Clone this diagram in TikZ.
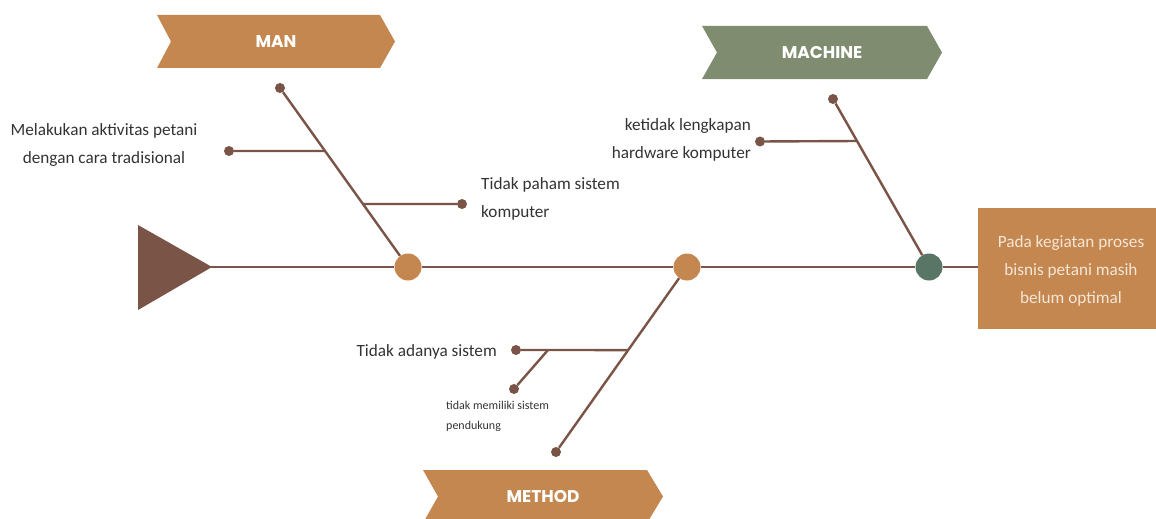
\documentclass[tikz,border=0pt]{standalone}
\usepackage{fontspec}
\setmainfont{Carlito}
\newfontfamily\banfont{Poppins}
\usetikzlibrary{calc}
\definecolor{brn}{HTML}{7A5446}
\definecolor{org}{HTML}{C4874F}
\definecolor{sage}{HTML}{7F8C70}
\definecolor{dgreen}{HTML}{587566}
\definecolor{txt}{HTML}{333333}
\definecolor{boxtxt}{HTML}{F5E6D6}
\tikzset{
  bone/.style={draw=brn, line width=2.4pt},
  enddot/.style={circle, fill=brn, minimum size=10pt, inner sep=0pt},
  hub/.style={circle, minimum size=27pt, inner sep=0pt},
  lbl/.style={text=txt, font=\fontsize{17.2}{28}\selectfont, inner sep=0pt},
  smalllbl/.style={text=txt, font=\fontsize{12}{20}\selectfont, inner sep=0pt},
  bantext/.style={text=white, font=\banfont\bfseries\fontsize{17}{18}\selectfont, inner sep=0pt},
}
\begin{document}
\begin{tikzpicture}[x=1pt,y=-1pt]
\useasboundingbox (0,0) rectangle (1156,519);
\clip (0,0) rectangle (1156,519);
% banners
\fill[org] (157,15) -- (380,15) -- (395,41.5) -- (380,68) -- (157,68) -- (171,41.5) -- cycle;
\node[bantext] (man) at (276,41.5) {MAN};
\fill[sage] (702,26) -- (927,26) -- (942,52.5) -- (927,79) -- (702,79) -- (717,52.5) -- cycle;
\node[bantext] (machine) at (822,52.5) {MACHINE};
\fill[org] (423,470) -- (647,470) -- (663,496.5) -- (647,523) -- (423,523) -- (438,496.5) -- cycle;
\node[bantext] (method) at (543,496.5) {METHOD};
% head box
\node[fill=org, minimum width=178pt, minimum height=121pt, inner sep=0pt, anchor=north west] (effect) at (978,208) {};
\node[text=boxtxt, font=\fontsize{17.2}{28}\selectfont, align=center, inner sep=0pt] (efftext) at (1071,271) {Pada kegiatan proses\\bisnis petani masih\\belum optimal};
\coordinate (head) at (978,267);
% tail triangle
\fill[brn] (138,225) -- (212,267) -- (138,310) -- cycle;
\coordinate (tail) at (210,267);
% hubs
\node[hub, fill=org] (h1) at (408,267) {};
\node[hub, fill=org] (h2) at (687,267) {};
\node[hub, fill=dgreen] (h3) at (929,267) {};
% spine
\draw[bone] (tail) -- (h1) -- (h2) -- (h3) -- (head);
% MAN bone
\node[enddot] (d1) at (280,88) {};
\draw[bone] (d1) -- (h1);
\coordinate (j1) at ($(280,88)!0.352!(408,267)$);
\coordinate (j2) at ($(280,88)!0.648!(408,267)$);
\node[enddot] (d2) at (229,151) {};
\node[enddot] (d3) at (462,204) {};
\draw[bone] (d2) -- (j1);
\draw[bone] (j2) -- (d3);
\node[lbl, align=center] (t1) at (104,145) {Melakukan aktivitas petani\\dengan cara tradisional};
\node[lbl, align=left, anchor=west] (t2) at (481,199) {Tidak paham sistem\\komputer};
% MACHINE bone
\node[enddot] (d4) at (833,99) {};
\draw[bone] (d4) -- (h3);
\coordinate (j3) at ($(833,99)!0.25!(929,267)$);
\node[enddot] (d5) at (760,141.5) {};
\draw[bone] (d5) -- (j3);
\node[lbl, align=right, anchor=east] (t3) at (751,140) {ketidak lengkapan\\hardware komputer};
% METHOD bone
\node[enddot] (d6) at (556,452) {};
\draw[bone] (h2) -- (d6);
\coordinate (j4) at ($(687,267)!0.449!(556,452)$);
\node[enddot] (d7) at (516,350) {};
\draw[bone] (d7) -- (j4);
\coordinate (j5) at (548,350);
\node[enddot] (d8) at (514,389) {};
\draw[bone] (j5) -- (d8);
\node[lbl, anchor=east] (t4) at (497,352) {Tidak adanya sistem};
\node[smalllbl, align=left, anchor=west] (t5) at (446,416) {tidak memiliki sistem\\pendukung};
\end{tikzpicture}
\end{document}
